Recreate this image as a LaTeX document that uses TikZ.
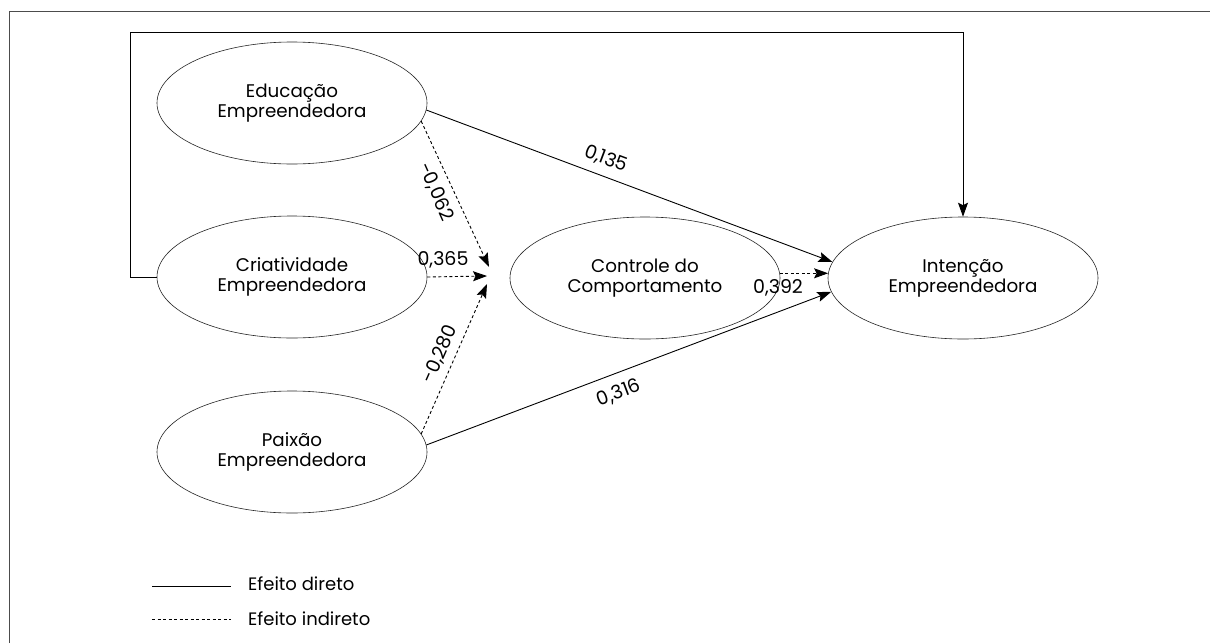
\documentclass[tikz,border=0pt]{standalone}
\usepackage{fontspec}
\setmainfont{Poppins}
\usetikzlibrary{shapes.geometric,arrows.meta}
\begin{document}
\begin{tikzpicture}[x=1pt,y=-1pt,
  lv/.style={draw=black!85,line width=0.6pt,ellipse,minimum width=270pt,minimum height=122pt,inner sep=0pt,align=center,font=\fontsize{18.3}{20}\selectfont},
  conn/.style={line width=0.9pt,-{Stealth[length=14pt,width=10pt,inset=2.5pt]}},
  dconn/.style={conn,dash pattern=on 3pt off 2.5pt},
  lbl/.style={font=\fontsize{19}{22}\selectfont,inner sep=0pt},
  leg/.style={font=\fontsize{18}{21}\selectfont,inner sep=0pt}]
\useasboundingbox (0,0) rectangle (1210,643);
\fill[white] (0,0) rectangle (1210,643);
% frame
\draw[black!70,line width=0.9pt] (9,643) -- (9,11) -- (1210,11);
% latent variables
\node[lv] (edu) at (292,103) {Educação\\Empreendedora};
\node[lv] (cri) at (292,277) {Criatividade\\Empreendedora};
\node[lv] (pai) at (292,452) {Paixão\\Empreendedora};
\node[lv] (con) at (645,278) {Controle do\\Comportamento};
\node[lv] (int) at (963,278) {Intenção\\Empreendedora};
% convergence points
\coordinate (tE) at (489,267);
\coordinate (tC) at (487,276);
\coordinate (tP) at (487,284);
% loop
\draw[conn] (cri.west) -- (130,277) -- (130,32) -| (int.north);
% direct
\draw[conn] (edu.-3) -- (int.173);
\draw[conn] (pai.3) -- (int.186);
% indirect
\draw[dconn] (edu.-8) -- (tE);
\draw[dconn] (cri.east) -- (tC);
\draw[dconn] (pai.8) -- (tP);
\draw[dconn] (con.2) -- (int.178);
% labels
\node[lbl,rotate=-20.7] (l1) at (606,159) {0,135};
\node[lbl,rotate=-66] (l2) at (436,192) {-0,062};
\node[lbl] (l3) at (443,260) {0,365};
\node[lbl,rotate=66] (l4) at (440,354) {-0,280};
\node[lbl,rotate=20.7] (l5) at (619,393) {0,316};
\node[lbl] (l6) at (778,288) {0,392};
% legend
\coordinate (a1) at (152,586); \coordinate (a2) at (231,586);
\coordinate (b1) at (152,619); \coordinate (b2) at (231,619);
\draw[line width=0.8pt] (a1) -- (a2);
\draw[line width=0.8pt,dash pattern=on 3pt off 2.5pt] (b1) -- (b2);
\node[leg,anchor=west] (ld) at (248,584) {Efeito direto};
\node[leg,anchor=west] (li) at (248,619) {Efeito indireto};
\end{tikzpicture}
\end{document}
